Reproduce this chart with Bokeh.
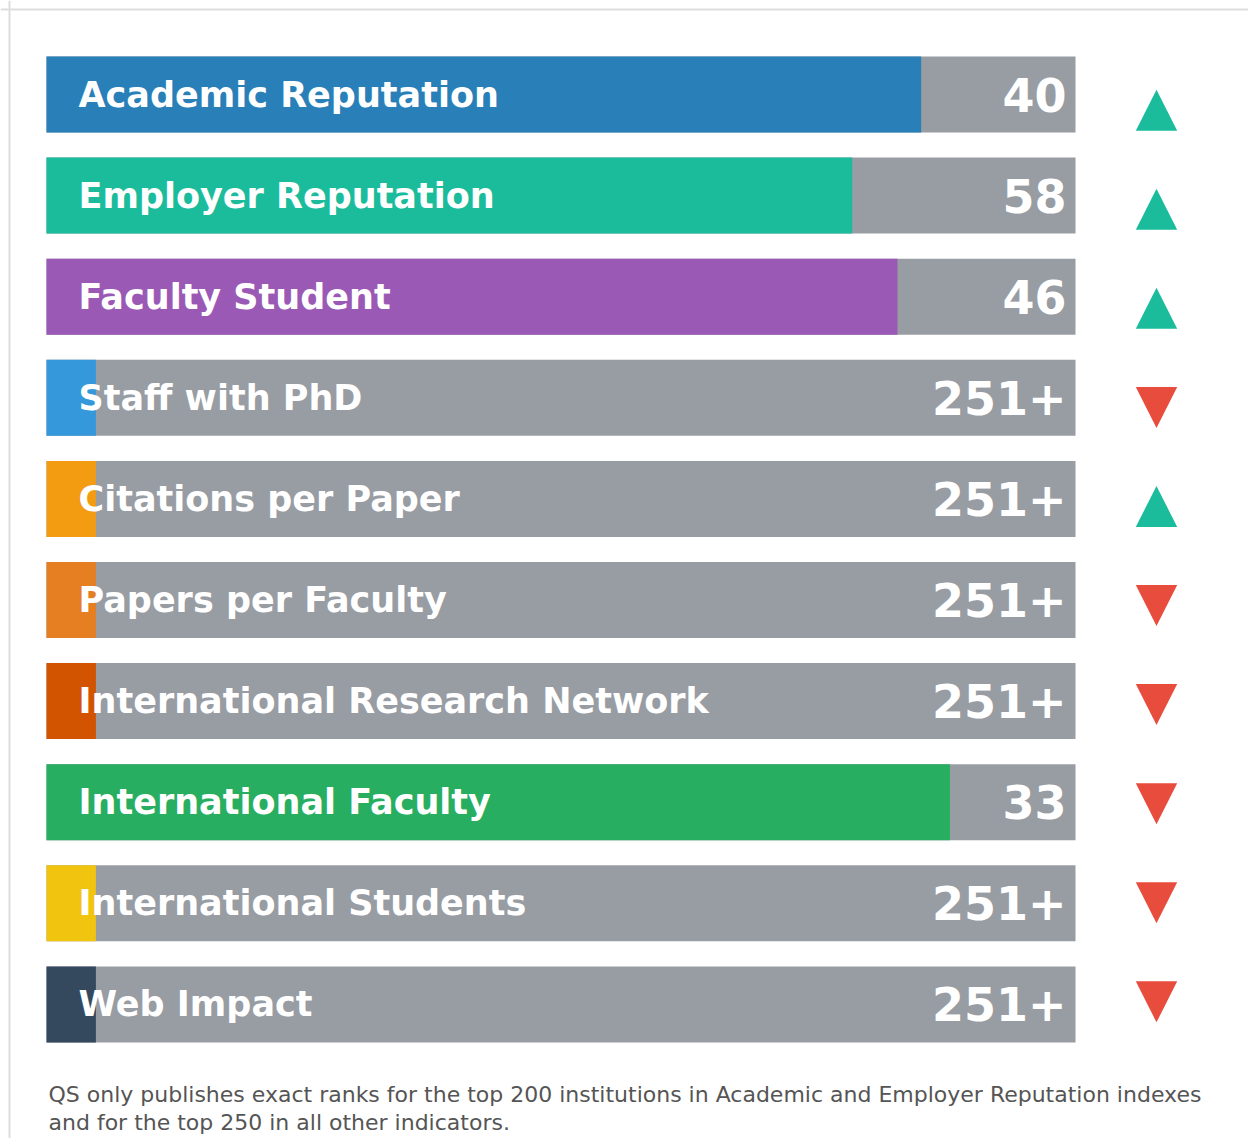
from bokeh.plotting import figure
from bokeh.models import ColumnDataSource, Range1d, Label, Span
from bokeh.embed import file_html
from bokeh.resources import INLINE
from bokeh.core.properties import value

# ---- data ----
indicators = ["Academic Reputation", "Employer Reputation", "Faculty Student",
              "Staff with PhD", "Citations per Paper", "Papers per Faculty",
              "International Research Network", "International Faculty",
              "International Students", "Web Impact"]
ranks = ["40", "58", "46", "251+", "251+", "251+", "251+", "33", "251+", "251+"]
bar_pct = [85.0, 78.3, 82.7, 4.8, 4.8, 4.8, 4.8, 87.8, 4.8, 4.8]
trend = ["up", "up", "up", "down", "up", "down", "down", "down", "down", "down"]
bar_colors = ["#2980b9", "#1abc9c", "#9b59b6", "#3498db", "#f39c12",
              "#e67e22", "#d35400", "#27ae60", "#f1c40f", "#34495e"]
bar_max = 100
footnote = ["QS only publishes exact ranks for the top 200 institutions in Academic and Employer Reputation indexes",
            "and for the top 250 in all other indicators."]

# ---- layout ----
W, H = 1248, 1138
px_x = 10.29          # pixels per bar unit
x0_px = 46            # bar origin in canvas px
row0_px, row_px = 94, 101.1
tri0_px, tri_px = 109.7, 99.07

x_start = -x0_px / px_x
x_end = (W - x0_px) / px_x
y_top = -row0_px / row_px
y_bot = (H - row0_px) / row_px
t_top = -tri0_px / tri_px
t_bot = (H - tri0_px) / tri_px

p = figure(width=W, height=H, output_backend="svg", toolbar_location=None,
           x_range=Range1d(x_start, x_end), y_range=Range1d(y_bot, y_top),
           x_axis_type=None, y_axis_type=None, min_border=0,
           background_fill_color="white", border_fill_color="white")
p.extra_y_ranges = {"tri": Range1d(t_bot, t_top)}
p.grid.visible = False
p.outline_line_color = None

n = len(indicators)
idx = list(range(n))
src = ColumnDataSource(dict(y=idx, name=indicators, rank=ranks, pct=bar_pct,
                            color=bar_colors, full=[bar_max] * n))

bar_h = 76 / row_px
p.hbar(y="y", left=0, right="full", height=bar_h, source=src,
       fill_color="#989ca3", line_color=None)
p.hbar(y="y", left=0, right="pct", height=bar_h, source=src,
       fill_color="color", line_color=None)

p.text(x=0, y="y", text="name", source=src, x_offset=32,
       text_font=value("DejaVu Sans"), text_font_style="bold",
       text_font_size="35px", text_color="white",
       text_align="left", text_baseline="middle")
p.text(x="full", y="y", text="rank", source=src, x_offset=-9,
       text_font=value("DejaVu Sans"), text_font_style="bold",
       text_font_size="46px", text_color="white",
       text_align="right", text_baseline="middle")

# trend triangles
tri_x = (1156 - x0_px) / px_x
hw = 20.7 / px_x
hh = 20.5 / tri_px
xs, ys, tc = [], [], []
for i, t in enumerate(trend):
    xs.append([tri_x - hw, tri_x + hw, tri_x])
    if t == "up":
        ys.append([i + hh, i + hh, i - hh])
        tc.append("#1abc9c")
    else:
        ys.append([i - hh, i - hh, i + hh])
        tc.append("#e74c3c")
p.patches(xs="xs", ys="ys", fill_color="c", line_color=None,
          source=ColumnDataSource(dict(xs=xs, ys=ys, c=tc)), y_range_name="tri")

# border of the card (top and left visible)
bx = (9 - x0_px) / px_x
by = (9 - row0_px) / row_px
p.add_layout(Span(location=bx, dimension="height", line_color="#dddddd", line_width=2))
p.add_layout(Span(location=by, dimension="width", line_color="#dddddd", line_width=2))

# footnote
for k, line in enumerate(footnote):
    p.add_layout(Label(x=48, y=44.3 - 28.3 * k, x_units="screen", y_units="screen",
                       text=line, text_font="DejaVu Sans", text_font_size="22px",
                       text_color="#555555", text_align="left",
                       text_baseline="alphabetic"))

open("out.html", "w").write(file_html(p, INLINE))
